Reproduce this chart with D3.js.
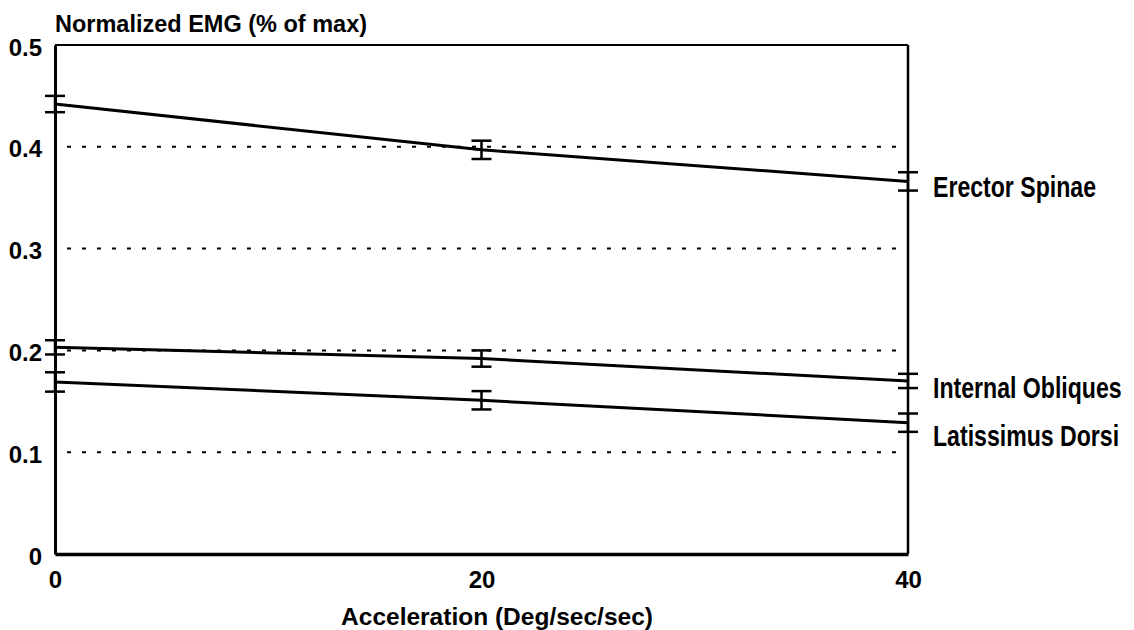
<!DOCTYPE html>
<html>
<head>
<meta charset="utf-8">
<script src="https://cdnjs.cloudflare.com/ajax/libs/d3/7.8.5/d3.min.js"></script>
<style>
  body { margin: 0; background: #fff; }
  svg text { font-family: "Liberation Sans", Arial, Helvetica, sans-serif; font-weight: bold; fill: #000; }
</style>
</head>
<body>
<svg width="1134" height="630"></svg>
<script>
var accel = [0, 20, 40];
var yTicks = [0, 0.1, 0.2, 0.3, 0.4, 0.5];
var xTicks = [0, 20, 40];

var erector = [0.442, 0.397, 0.366];
var erectorErr = [0.008, 0.009, 0.009];
var obliques = [0.203, 0.192, 0.170];
var obliquesErr = [0.007, 0.008, 0.007];
var latissimus = [0.169, 0.151, 0.129];
var latissimusErr = [0.0095, 0.009, 0.009];

var seriesNames = ["Erector Spinae", "Internal Obliques", "Latissimus Dorsi"];

var series = [
  { name: seriesNames[0], values: erector, err: erectorErr, dy: 16 },
  { name: seriesNames[1], values: obliques, err: obliquesErr, dy: 17 },
  { name: seriesNames[2], values: latissimus, err: latissimusErr, dy: 23 }
];

var svg = d3.select("svg");
var plotL = 55, plotR = 908, plotT = 45, plotB = 554;

var x = d3.scaleLinear().domain([0, 40]).range([plotL, plotR]);
var y = d3.scaleLinear().domain([0, 0.5]).range([plotB, plotT]);

// dotted grid lines
svg.append("g")
    .selectAll("line")
    .data(yTicks.filter(function(d) { return d > 0 && d < 0.5; }))
    .enter().append("line")
    .attr("x1", plotL).attr("x2", plotR)
    .attr("y1", function(d) { return y(d); })
    .attr("y2", function(d) { return y(d); })
    .attr("stroke", "#000")
    .attr("stroke-width", 2)
    .attr("stroke-dasharray", "4 11")
    .attr("stroke-dashoffset", 3);

// frame
svg.append("line").attr("x1", plotL).attr("x2", plotR).attr("y1", plotT).attr("y2", plotT)
    .attr("stroke", "#000").attr("stroke-width", 2);
svg.append("line").attr("x1", plotR).attr("x2", plotR).attr("y1", plotT).attr("y2", plotB)
    .attr("stroke", "#000").attr("stroke-width", 2.5);

// axes
var yAxis = d3.axisLeft(y).tickValues(yTicks).tickSize(0).tickPadding(13)
    .tickFormat(function(d) { return d === 0 ? "0" : d3.format(".1f")(d); });
var xAxis = d3.axisBottom(x).tickValues(xTicks).tickSize(0).tickPadding(17)
    .tickFormat(d3.format("d"));

var gy = svg.append("g").attr("transform", "translate(" + plotL + ",0)").call(yAxis);
gy.select(".domain").attr("stroke", "#000").attr("stroke-width", 3);
gy.selectAll("text").attr("font-size", 24).attr("dy", "0.34em")
    .attr("transform", "translate(0,2)");

var gx = svg.append("g").attr("transform", "translate(0," + plotB + ")").call(xAxis);
gx.select(".domain").attr("stroke", "#000").attr("stroke-width", 3.5);
gx.selectAll("text").attr("font-size", 24).attr("dy", "0.71em");

// axis titles
svg.append("text").attr("x", plotL).attr("y", 32)
    .attr("font-size", 23.5).text("Normalized EMG (% of max)");
svg.append("text").attr("x", 497).attr("y", 625)
    .attr("text-anchor", "middle").attr("font-size", 24.5).text("Acceleration (Deg/sec/sec)");

// series lines
var line = d3.line()
    .x(function(d, i) { return x(accel[i]); })
    .y(function(d) { return y(d); });

var g = svg.append("g").selectAll("g").data(series).enter().append("g");

g.append("path")
    .attr("d", function(s) { return line(s.values); })
    .attr("fill", "none")
    .attr("stroke", "#000")
    .attr("stroke-width", 3);

// error bars
var bars = g.selectAll("g.err")
    .data(function(s) {
      return s.values.map(function(v, i) { return { x: accel[i], v: v, e: s.err[i] }; });
    })
    .enter().append("g").attr("class", "err");

bars.append("line")
    .attr("x1", function(d) { return x(d.x); })
    .attr("x2", function(d) { return x(d.x); })
    .attr("y1", function(d) { return y(d.v + d.e); })
    .attr("y2", function(d) { return y(d.v - d.e); })
    .attr("stroke", "#000").attr("stroke-width", 2.5);

[1, -1].forEach(function(sign) {
  bars.append("line")
      .attr("x1", function(d) { return x(d.x) - 10; })
      .attr("x2", function(d) { return x(d.x) + 10; })
      .attr("y1", function(d) { return y(d.v + sign * d.e); })
      .attr("y2", function(d) { return y(d.v + sign * d.e); })
      .attr("stroke", "#000").attr("stroke-width", 2.5);
});

// series labels (condensed)
g.append("text")
    .attr("transform", function(s) {
      return "translate(" + (plotR + 25) + "," + (y(s.values[2]) + s.dy) + ") scale(0.77,1)";
    })
    .attr("font-size", 30)
    .text(function(s) { return s.name; });
</script>
</body>
</html>
